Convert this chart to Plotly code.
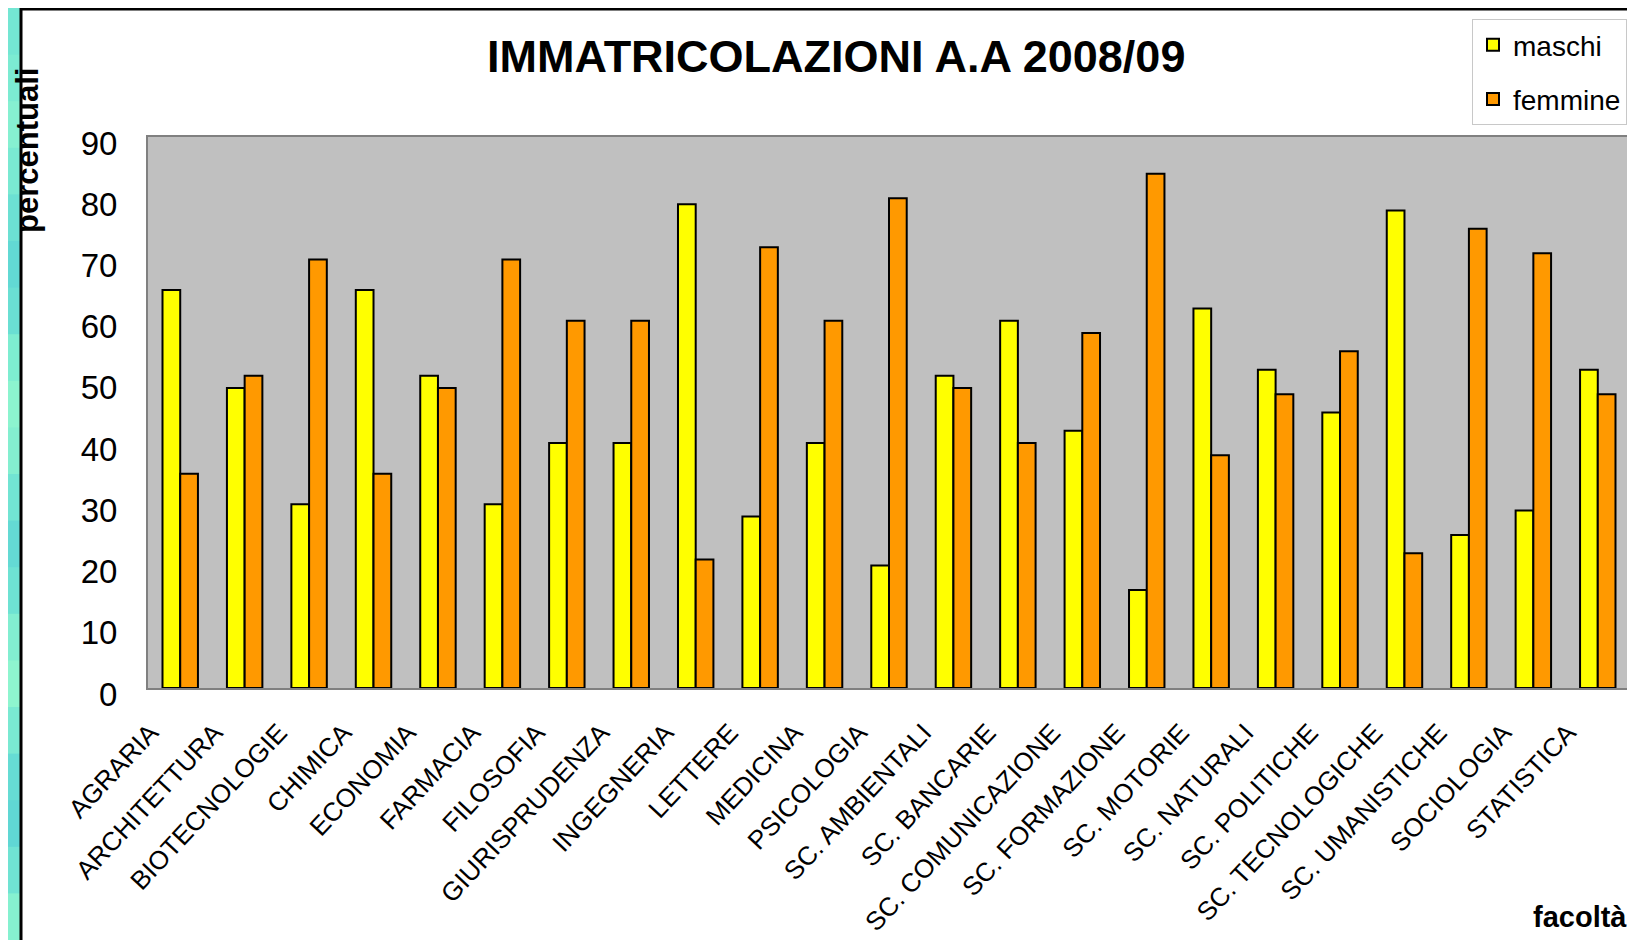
import plotly.graph_objects as go

categories = ["AGRARIA", "ARCHITETTURA", "BIOTECNOLOGIE", "CHIMICA", "ECONOMIA", "FARMACIA",
              "FILOSOFIA", "GIURISPRUDENZA", "INGEGNERIA", "LETTERE", "MEDICINA", "PSICOLOGIA",
              "SC. AMBIENTALI", "SC. BANCARIE", "SC. COMUNICAZIONE", "SC. FORMAZIONE",
              "SC. MOTORIE", "SC. NATURALI", "SC. POLITICHE", "SC. TECNOLOGICHE",
              "SC. UMANISTICHE", "SOCIOLOGIA", "STATISTICA"]
maschi = [65, 49, 30, 65, 51, 30, 40, 40, 79, 28, 40, 20, 51, 60, 42, 16, 62, 52, 45, 78, 25, 29, 52]
femmine = [35, 51, 70, 35, 49, 70, 60, 60, 21, 72, 60, 80, 49, 40, 58, 84, 38, 48, 55, 22, 75, 71, 48]
y_ticks = [0, 10, 20, 30, 40, 50, 60, 70, 80, 90]

# the page body has a default 8px margin; work in page pixels and convert
OFF = 8
PAGE_W, PAGE_H = 1635, 940
W, H = PAGE_W - OFF, PAGE_H - OFF
L, R, T, B = 148 - OFF, 1630 - OFF, 137 - OFF, 688 - OFF
FONT = "Liberation Sans, Arial, sans-serif"


def px(x):
    return (x - OFF - L) / (R - L)


def py(y):
    return (B - (y - OFF)) / (B - T)


fig = go.Figure()
fig.add_trace(go.Bar(name="maschi", x=categories, y=maschi, legendgroup="m",
                     marker=dict(color="#FFFF00", line=dict(color="black", width=2))))
fig.add_trace(go.Bar(name="femmine", x=categories, y=femmine, legendgroup="f",
                     marker=dict(color="#FF9900", line=dict(color="black", width=2))))

shapes = []
# left teal decorative strip
teal = ["#74E6D3", "#7CEBD2", "#86F0D1", "#7AE9D2", "#6CE0D3", "#62D9D4", "#6ADFD3", "#7EEDD1",
        "#8CF4CF", "#84EFD0", "#72E4D3", "#64DAD4", "#6EE2D3", "#82EED1", "#8EF5CF", "#7AE9D2",
        "#66DCD4", "#60D7D4", "#70E3D3", "#86F1D0"]
n = len(teal)
for i, c in enumerate(teal):
    shapes.append(dict(type="rect", xref="paper", yref="paper",
                       x0=px(OFF - 1), x1=px(20), y0=py(OFF + i * (H / n)), y1=py(OFF + (i + 1) * (H / n) + 1),
                       fillcolor=c, line=dict(width=0), layer="below"))
# frame lines
shapes.append(dict(type="line", xref="paper", yref="paper", x0=px(21), x1=px(21), y0=py(OFF), y1=py(PAGE_H),
                   line=dict(color="black", width=3)))
shapes.append(dict(type="line", xref="paper", yref="paper", x0=px(20), x1=px(1634), y0=py(OFF + 1), y1=py(OFF + 1),
                   line=dict(color="black", width=3)))
shapes.append(dict(type="line", xref="paper", yref="paper", x0=px(1633), x1=px(1633), y0=py(OFF), y1=py(PAGE_H),
                   line=dict(color="black", width=3)))

annotations = [
    dict(text="<b>IMMATRICOLAZIONI A.A 2008/09</b>", xref="paper", yref="paper",
         x=px(836), y=py(57), xanchor="center", yanchor="middle", showarrow=False,
         font=dict(family=FONT, size=45, color="black")),
    dict(text="<b>percentuali</b>", xref="paper", yref="paper", textangle=-90,
         x=px(27), y=py(151), xanchor="center", yanchor="middle", showarrow=False,
         borderpad=0, font=dict(family=FONT, size=31, color="black")),
    dict(text="<b>facoltà</b>", xref="paper", yref="paper",
         x=px(1629), y=py(917), xanchor="right", yanchor="middle", showarrow=False,
         font=dict(family=FONT, size=29, color="black")),
]

fig.update_layout(
    width=W, height=H,
    margin=dict(l=L, r=W - R, t=T, b=H - B, autoexpand=False),
    paper_bgcolor="white", plot_bgcolor="#C0C0C0",
    barmode="group", bargap=0.45, bargroupgap=0,
    font=dict(family=FONT, color="black"),
    showlegend=True,
    legend=dict(x=px(1472), y=py(19), xanchor="left", yanchor="top",
                bgcolor="white", bordercolor="#C8C8C8", borderwidth=1,
                font=dict(family=FONT, size=28, color="black"),
                traceorder="grouped", tracegroupgap=15),
    shapes=shapes, annotations=annotations,
)
fig.update_xaxes(type="category", tickangle=-47, tickfont=dict(family=FONT, size=26, color="black"),
                 showline=True, mirror=True, linecolor="#808080", linewidth=2,
                 showgrid=False, ticks="", automargin=False,
                 ticklabelshift=-30, ticklabelstandoff=17)
fig.update_yaxes(range=[0, 90], tickvals=y_ticks, tickfont=dict(family=FONT, size=33, color="black"),
                 showline=True, mirror=True, linecolor="#808080", linewidth=2,
                 showgrid=False, zeroline=False, ticks="", automargin=False,
                 ticklabelstandoff=22, ticklabelshift=6)

fig.write_html("out.html")
